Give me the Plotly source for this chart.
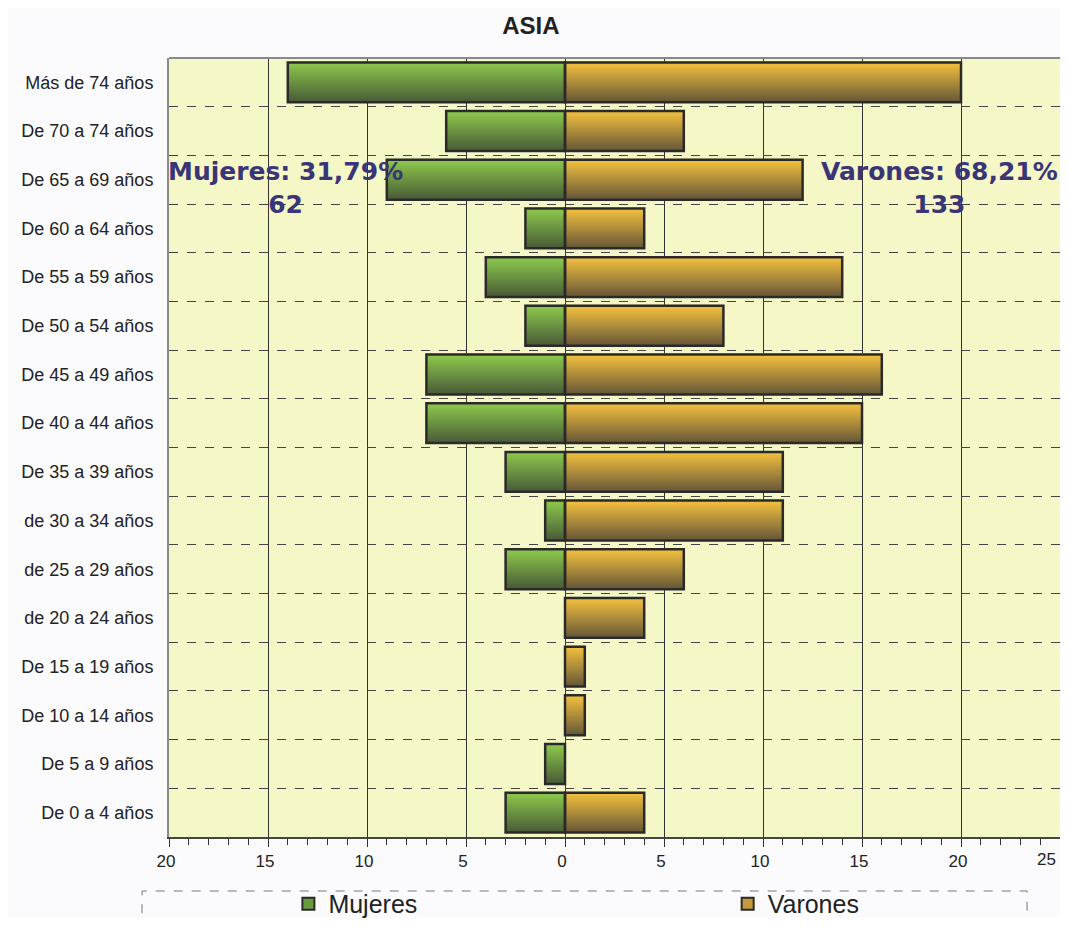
import plotly.graph_objects as go

# age groups, bottom to top
grupos = ["De 0 a 4 años", "De 5 a 9 años", "De 10 a 14 años", "De 15 a 19 años",
          "de 20 a 24 años", "de 25 a 29 años", "de 30 a 34 años", "De 35 a 39 años",
          "De 40 a 44 años", "De 45 a 49 años", "De 50 a 54 años", "De 55 a 59 años",
          "De 60 a 64 años", "De 65 a 69 años", "De 70 a 74 años", "Más de 74 años"]
mujeres = [3, 1, 0, 0, 0, 3, 1, 3, 7, 7, 2, 4, 2, 9, 6, 14]
varones = [4, 0, 1, 1, 4, 6, 11, 11, 15, 16, 8, 14, 4, 12, 6, 20]
xticks = [-20, -15, -10, -5, 0, 5, 10, 15, 20, 25]

total = sum(mujeres) + sum(varones)
pct_m = 100 * sum(mujeres) / total
pct_v = 100 * sum(varones) / total

bar_w = 0.82
n_slices = 24


def mix(c1, c2, t):
    return "rgb(%d,%d,%d)" % tuple(round(a + (b - a) * t) for a, b in zip(c1, c2))


series = [
    ("Mujeres", [-v if v else None for v in mujeres], (74, 92, 56), (140, 200, 75), "#6a9a40", "legend"),
    ("Varones", [v if v else None for v in varones], (104, 88, 56), (242, 192, 62), "#c4993c", "legend2"),
]

fig = go.Figure()

# fake vertical gradient: thin slices of each bar, dark at bottom, bright on top
for name, vals, c_bot, c_top, mid, leg in series:
    for i in range(n_slices):
        t = i / (n_slices - 1)
        fig.add_trace(go.Bar(
            y=grupos, x=vals, orientation="h",
            width=bar_w / n_slices * 1.6,
            offset=-bar_w / 2 + i * bar_w / n_slices,
            marker=dict(color=mix(c_bot, c_top, t), line=dict(width=0)),
            showlegend=False, hoverinfo="skip"))

# outlines
for name, vals, c_bot, c_top, mid, leg in series:
    fig.add_trace(go.Bar(
        y=grupos, x=vals, orientation="h", width=bar_w,
        marker=dict(color="rgba(0,0,0,0)", line=dict(color="#2a2a2a", width=2.5)),
        showlegend=False, name=name))

# legend entries
for name, vals, c_bot, c_top, mid, leg in series:
    fig.add_trace(go.Bar(
        y=[grupos[0]], x=[None], orientation="h", name=name, legend=leg,
        marker=dict(color=mid, line=dict(color="#2a2a2a", width=2))))

ann_font = dict(family="DejaVu Sans", size=25, color="#3a3576", weight="bold")
fig.add_annotation(x=-14.1, y=0.8755, xref="x", yref="paper", showarrow=False, font=ann_font,
                   text="Mujeres: %s%%<br>%d" % (f"{pct_m:.2f}".replace(".", ","), sum(mujeres)))
fig.add_annotation(x=18.9, y=0.8755, xref="x", yref="paper", showarrow=False, font=ann_font,
                   text="Varones: %s%%<br>%d" % (f"{pct_v:.2f}".replace(".", ","), sum(varones)))

# last x tick label sits inside the right edge
fig.add_annotation(x=xticks[-1], y=0, xref="x", yref="paper", showarrow=False,
                   text=str(xticks[-1]), xanchor="right", yanchor="top", xshift=-2, yshift=-11,
                   font=dict(size=17, color="#222"))

# top border and dashed legend frame
fig.add_shape(type="line", xref="paper", yref="paper", x0=0, x1=1, y0=1, y1=1,
              line=dict(color="#8a8a8a", width=2))
fig.add_shape(type="rect", xref="paper", yref="paper", x0=-0.0303, x1=0.963,
              y0=-0.16, y1=-0.0693, line=dict(color="#777", width=1, dash="dash"))

leg_style = dict(orientation="h", y=-0.086, xanchor="left", yanchor="middle",
                 font=dict(size=25, color="#222"), bgcolor="rgba(0,0,0,0)")

fig.update_layout(
    barmode="overlay",
    width=1052, height=910,
    margin=dict(l=161, r=0, t=50, b=81, autoexpand=False),
    paper_bgcolor="#fbfbfd",
    plot_bgcolor="#f5f7c6",
    font=dict(family="Liberation Sans, Arial", color="#222"),
    title=dict(text="<b>ASIA</b>", x=0.497, xref="container", y=0.981, yref="container",
               xanchor="center", yanchor="middle", font=dict(size=24, color="#222")),
    legend=dict(x=0.134, **leg_style),
    legend2=dict(x=0.627, **leg_style),
    showlegend=True,
)

fig.update_xaxes(
    range=[-20, 25], tickvals=xticks,
    ticktext=[str(abs(v)) if v != xticks[-1] else "" for v in xticks],
    showgrid=True, gridcolor="#333", gridwidth=1, zeroline=False,
    showline=True, linecolor="#444", linewidth=2,
    ticks="outside", ticklen=8, tickcolor="#333", ticklabelshift=-3,
    minor=dict(dtick=1, ticks="outside", ticklen=6, tickcolor="#333", showgrid=False),
    tickfont=dict(size=17, color="#222"), fixedrange=True)

fig.update_yaxes(
    categoryorder="array", categoryarray=grupos, tickson="boundaries",
    showgrid=True, gridcolor="#444", gridwidth=1, griddash="dash",
    showline=True, linecolor="#8a8a8a", linewidth=2, mirror=True,
    ticks="", ticklabelstandoff=10,
    tickfont=dict(size=18, color="#222"), fixedrange=True)

fig.write_html("out.html")
